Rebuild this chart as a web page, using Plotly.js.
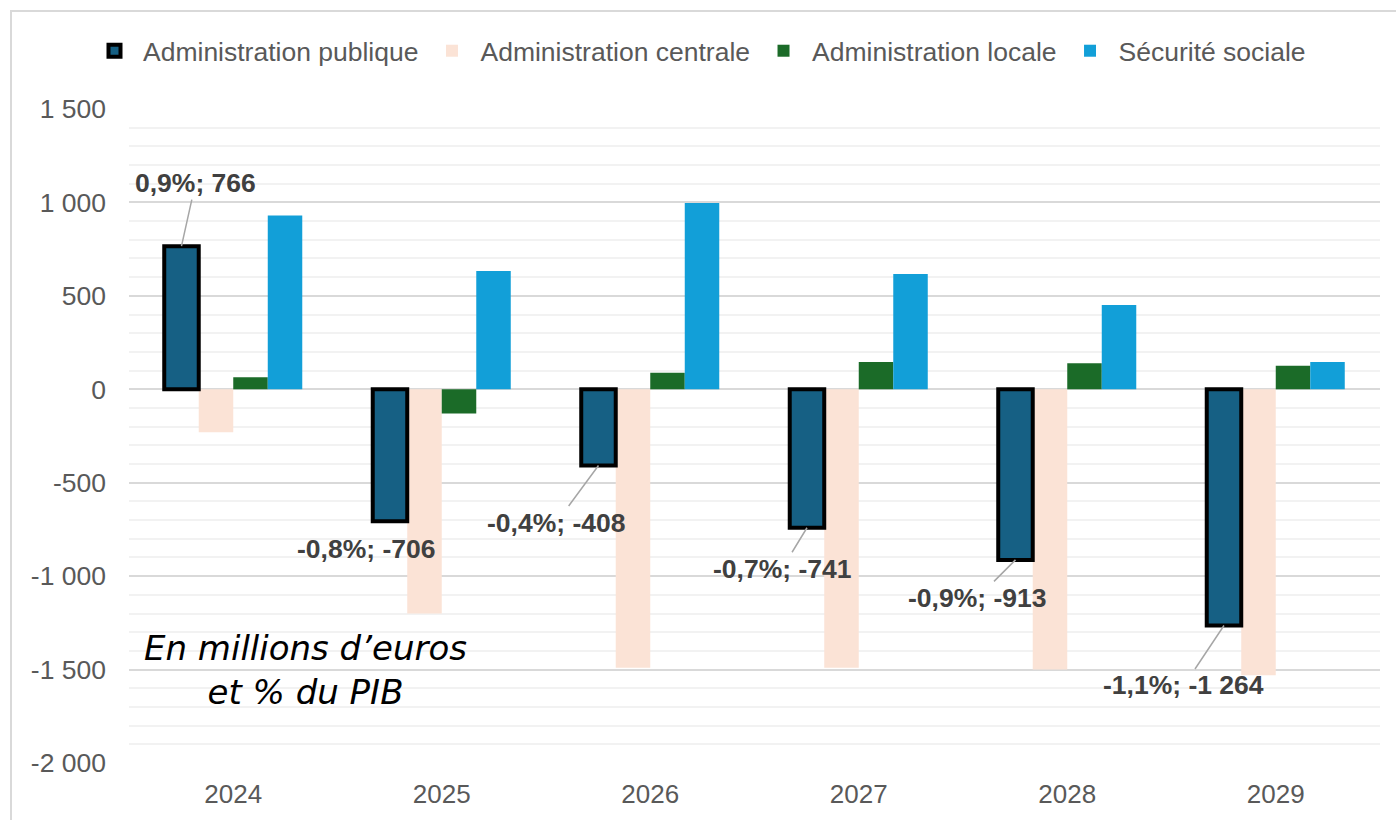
<!DOCTYPE html>
<html>
<head>
<meta charset="utf-8">
<script src="https://cdn.plot.ly/plotly-3.0.1.min.js"></script>
<style>
  html, body { margin: 0; padding: 0; background: #ffffff; }
  #chart { width: 1396px; height: 820px; }
</style>
</head>
<body>
<div id="chart"></div>
<script>
// ---- Data ----
const years = ['2024', '2025', '2026', '2027', '2028', '2029'];
const adminPublique = [766, -706, -408, -741, -913, -1264];
const adminCentrale = [-230, -1200, -1490, -1490, -1500, -1530];
const adminLocale = [65, -130, 88, 146, 139, 126];
const securiteSociale = [930, 633, 997, 617, 451, 146];
const pibPct = ['0,9%', '-0,8%', '-0,4%', '-0,7%', '-0,9%', '-1,1%'];
const yTickVals = [1500, 1000, 500, 0, -500, -1000, -1500, -2000];
const yTickText = ['1 500', '1 000', '500', '0', '-500', '-1 000', '-1 500', '-2 000'];

// ---- Styling ----
const W = 1396, H = 820;
const margin = { l: 129, r: 16, t: 109, b: 57 };
const plotW = W - margin.l - margin.r;
const plotH = H - margin.t - margin.b;
const bargap = 0.338;
const nSeries = 4;
const barW = (1 - bargap) / nSeries;          // width of one bar (category units)
const slotOffset = k => -2 * barW + k * barW;  // left edge of slot k
const pubCenter = slotOffset(0) + barW / 2;
// label pixel offsets relative to end of bar (style)
const labelAx = [14, -24, -42, -25, -38, -40];
const labelAy = [-63, 28, 57, 41, 38, 60];
const showLeader = [true, false, true, true, true, true];

const FONT = '"Liberation Sans", Arial, sans-serif';

function fmtNum(v) {
  const s = Math.abs(v).toString().replace(/\B(?=(\d{3})+(?!\d))/g, ' ');
  return (v < 0 ? '-' : '') + s;
}
function px2paperX(px) { return (px - margin.l) / plotW; }
function px2paperY(py) { return (margin.t + plotH - py) / plotH; }

// drawn in this order; publique last so its thick outline stays on top
const traces = [
  { name: 'Administration centrale', y: adminCentrale, legendrank: 2, offset: slotOffset(1),
    marker: { color: '#FBE3D6', line: { width: 0 } } },
  { name: 'Administration locale', y: adminLocale, legendrank: 3, offset: slotOffset(2),
    marker: { color: '#1B6B28', line: { width: 0 } } },
  { name: 'Sécurité sociale', y: securiteSociale, legendrank: 4, offset: slotOffset(3),
    marker: { color: '#129FD8', line: { width: 0 } } },
  { name: 'Administration publique', y: adminPublique, legendrank: 1, offset: slotOffset(0),
    marker: { color: '#166084', line: { color: '#000000', width: 4 } } }
].map(t => Object.assign({ type: 'bar', x: years, width: barW, hoverinfo: 'skip' }, t));

const annotations = adminPublique.map((v, i) => ({
  x: i + pubCenter, y: v, xref: 'x', yref: 'y',
  text: '<b>' + pibPct[i] + '; ' + fmtNum(v) + '</b>',
  showarrow: true, arrowhead: 0, arrowwidth: 1.5, standoff: 0,
  arrowcolor: showLeader[i] ? '#A6A6A6' : 'rgba(0,0,0,0)',
  ax: labelAx[i], ay: labelAy[i],
  font: { family: FONT, size: 26.5, color: '#404040' }
}));

annotations.push({
  xref: 'paper', yref: 'paper',
  x: px2paperX(305), y: px2paperY(670),
  xanchor: 'center', yanchor: 'middle', align: 'center',
  showarrow: false,
  text: '<i>En millions d’euros<br>et % du PIB</i>',
  font: { family: '"DejaVu Sans", sans-serif', size: 34, color: '#000000' }
});

const layout = {
  width: W, height: H,
  margin: margin,
  paper_bgcolor: '#ffffff', plot_bgcolor: '#ffffff',
  barmode: 'overlay',
  font: { family: FONT, size: 25, color: '#595959' },
  showlegend: true,
  legend: {
    orientation: 'h', xref: 'paper', yref: 'paper', traceorder: 'normal',
    x: px2paperX(86), xanchor: 'left',
    y: px2paperY(51), yanchor: 'middle',
    itemwidth: 47,
    font: { family: FONT, size: 26.5, color: '#595959' },
    itemclick: false, itemdoubleclick: false
  },
  xaxis: {
    type: 'category', range: [-0.5, 5.5], autorange: false,
    showgrid: false, showline: false, zeroline: false,
    ticks: '', tickfont: { family: FONT, size: 26, color: '#595959' },
    ticklabelstandoff: 13, fixedrange: true
  },
  yaxis: {
    range: [-2000, 1500], autorange: false,
    tickmode: 'array', tickvals: yTickVals, ticktext: yTickText,
    showgrid: true, gridcolor: '#D9D9D9', gridwidth: 2,
    zeroline: true, zerolinecolor: '#D9D9D9', zerolinewidth: 2,
    showline: false, ticks: '', ticklabelstandoff: 22,
    tickfont: { family: FONT, size: 26.5, color: '#595959' },
    minor: { tickmode: 'linear', tick0: 0, dtick: 100, showgrid: true, gridcolor: '#F2F2F2', gridwidth: 2, ticks: '' },
    fixedrange: true
  },
  annotations: annotations,
  shapes: [{
    type: 'rect', xref: 'paper', yref: 'paper', layer: 'below',
    x0: px2paperX(11), x1: px2paperX(W + 20),
    y0: px2paperY(H + 20), y1: px2paperY(11),
    line: { color: '#D9D9D9', width: 2 }, fillcolor: 'rgba(0,0,0,0)'
  }]
};

Plotly.newPlot('chart', traces, layout, { displayModeBar: false, staticPlot: true });
</script>
</body>
</html>
